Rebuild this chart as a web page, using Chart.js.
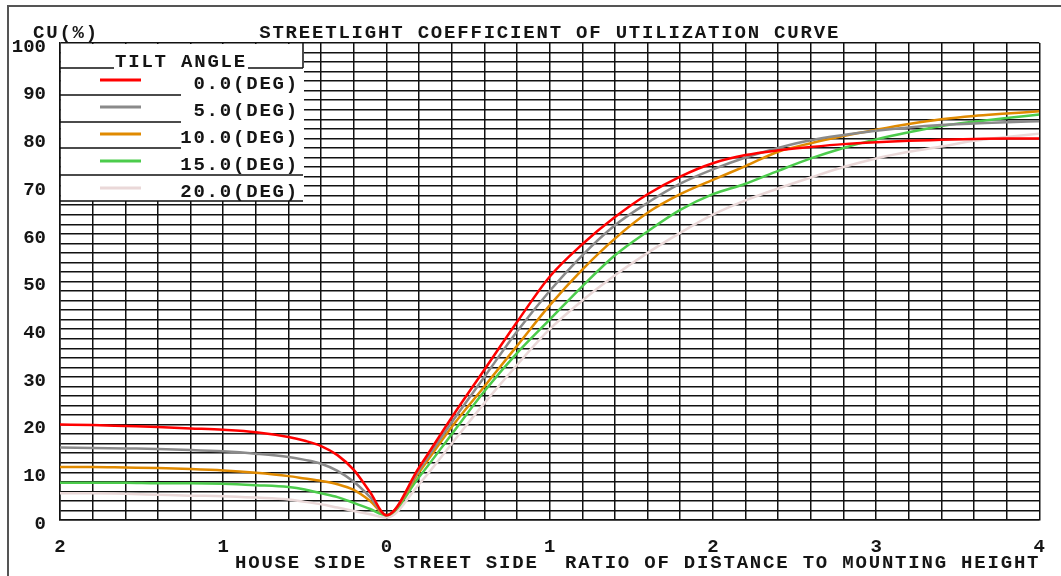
<!DOCTYPE html>
<html>
<head>
<meta charset="utf-8">
<script src="https://cdn.jsdelivr.net/npm/chart.js@4.4.1/dist/chart.umd.min.js"></script>
<style>
  html, body { margin: 0; padding: 0; background: #fff; }
  canvas { display: block; }
</style>
</head>
<body>
<canvas id="cu" width="1061" height="576"></canvas>
<script>
// distance / mounting height, house side negative
const distance = [-2, -1.8, -1.6, -1.4, -1.2, -1, -0.8, -0.6, -0.5, -0.4, -0.3, -0.2, -0.1, 0,
  0.2, 0.4, 0.6, 0.8, 1, 1.2, 1.4, 1.6, 1.8, 2, 2.2, 2.4, 2.6, 2.8, 3, 3.2, 3.4, 3.6, 3.8, 4];

const tiltLabels = ['0.0(DEG)', '5.0(DEG)', '10.0(DEG)', '15.0(DEG)', '20.0(DEG)'];
const tiltColors = ['#ff0000', '#8a8a8a', '#e08a00', '#4ccc4c', '#ead8d8'];

const cu0 = [20, 19.9, 19.7, 19.5, 19.2, 18.9, 18.4, 17.4, 16.6, 15.5, 13.6, 10.5, 5.8, 1,
  11, 21.5, 31.5, 41.5, 51, 57.8, 63.5, 68.3, 72, 74.8, 76.5, 77.5, 78.2, 78.8, 79.2, 79.5, 79.7, 79.9, 80, 80];
const cu5 = [15.2, 15.1, 15, 14.9, 14.7, 14.4, 13.9, 13.2, 12.6, 11.8, 10.3, 8, 4.8, 1,
  10.5, 20.5, 30, 39.5, 48, 55.5, 61.8, 66.5, 70.5, 73.5, 76, 78, 79.6, 80.7, 81.6, 82.3, 82.8, 83.1, 83.4, 83.6];
const cu10 = [11.1, 11.1, 11, 10.9, 10.7, 10.4, 9.9, 9.2, 8.7, 8.2, 7.5, 6.3, 4, 1,
  10, 19.5, 28, 36.5, 45, 52.5, 59, 64.4, 68.3, 71.3, 74.2, 77.2, 79, 80.5, 81.8, 83, 84, 84.7, 85.2, 85.7];
const cu15 = [7.8, 7.8, 7.8, 7.7, 7.7, 7.6, 7.3, 6.9, 6.4, 5.6, 4.8, 3.6, 2.3, 1,
  9, 18, 27, 35, 42, 49, 55.5, 60.5, 65, 68.3, 70.5, 73.2, 75.8, 78, 79.8, 81.3, 82.6, 83.5, 84.3, 85];
const cu20 = [5.6, 5.6, 5.5, 5.3, 5.1, 5, 4.7, 4.3, 3.8, 3.3, 2.6, 1.9, 1.2, 0.5,
  7.5, 16, 24.5, 32.5, 40, 46, 51.3, 56, 60.2, 64, 67, 69.5, 71.8, 74, 75.8, 77.2, 78.3, 79.5, 80.3, 81];

const series = [cu0, cu5, cu10, cu15, cu20];

const FONT = 'bold 19px "Liberation Mono", "DejaVu Sans Mono", monospace';
const INK = '#151515';

function spaced(ctx, text, x, y, align) {
    ctx.save();
    ctx.font = FONT;
    ctx.letterSpacing = '1.8px';
    ctx.fillStyle = INK;
    ctx.textAlign = align || 'left';
    ctx.textBaseline = 'middle';
    ctx.fillText(text, x, y);
    ctx.restore();
}

const decor = {
    id: 'decor',
    beforeDraw(chart) {
        const ctx = chart.ctx;
        ctx.save();
        ctx.fillStyle = '#fff';
        ctx.fillRect(0, 0, chart.width, chart.height);
        ctx.restore();
    },
    afterDraw(chart) {
        const ctx = chart.ctx;
        const a = chart.chartArea;
        ctx.save();
        // outer frame
        ctx.strokeStyle = '#555';
        ctx.lineWidth = 2;
        ctx.strokeRect(8, 6, chart.width, chart.height);

        // titles
        spaced(ctx, 'CU(%)', 33, 33);
        spaced(ctx, 'STREETLIGHT COEFFICIENT OF UTILIZATION CURVE', (a.left + a.right) / 2, 33, 'center');
        spaced(ctx, 'HOUSE SIDE  STREET SIDE  RATIO OF DISTANCE TO MOUNTING HEIGHT', a.right + 1, 563, 'right');

        // legend box
        const L = a.left, T = a.top, R = a.left + 243;
        ctx.fillStyle = '#fff';
        ctx.fillRect(L + 1, T + 1, R - L, 157);
        ctx.strokeStyle = '#111';
        ctx.lineWidth = 1.5;
        ctx.beginPath();
        ctx.moveTo(R, T); ctx.lineTo(R, T + 25);
        ctx.moveTo(L, T + 25); ctx.lineTo(L + 54, T + 25);
        ctx.moveTo(L + 188, T + 25); ctx.lineTo(R, T + 25);
        [52, 79, 105].forEach(d => { ctx.moveTo(L, T + d); ctx.lineTo(L + 121, T + d); });
        [132, 158].forEach(d => { ctx.moveTo(L, T + d); ctx.lineTo(R, T + d); });
        ctx.stroke();
        spaced(ctx, 'TILT ANGLE', L + 121, T + 19, 'center');
        tiltLabels.forEach((lab, i) => {
            const y = T + 37 + i * 27;
            ctx.strokeStyle = tiltColors[i];
            ctx.lineWidth = 3;
            ctx.beginPath();
            ctx.moveTo(L + 40, y);
            ctx.lineTo(L + 81, y);
            ctx.stroke();
            spaced(ctx, lab, R - 4, y + 4, 'right');
        });
        ctx.restore();
    }
};

new Chart(document.getElementById('cu'), {
    type: 'line',
    data: {
        datasets: series.map((vals, i) => ({
            label: tiltLabels[i],
            data: vals.map((v, k) => ({ x: distance[k], y: v })),
            borderColor: tiltColors[i],
            borderWidth: 2.5,
            pointRadius: 0,
            cubicInterpolationMode: 'monotone',
            fill: false
        }))
    },
    options: {
        responsive: false,
        animation: false,
        layout: { padding: { top: 43, right: 18, bottom: 0, left: 0 } },
        plugins: {
            legend: { display: false },
            tooltip: { enabled: false }
        },
        scales: {
            x: {
                type: 'linear',
                min: -2,
                max: 4,
                afterFit: s => { s.height = 56; },
                grid: { color: '#111', lineWidth: 1.5, drawTicks: false },
                border: { color: '#111', width: 1.5 },
                ticks: {
                    stepSize: 0.2,
                    autoSkip: false,
                    maxRotation: 0,
                    padding: 16,
                    color: INK,
                    font: { family: '"Liberation Mono", monospace', size: 19, weight: 'bold' },
                    callback: v => Math.abs(v - Math.round(v)) < 1e-6 ? String(Math.abs(Math.round(v))) : ''
                }
            },
            y: {
                min: 0,
                max: 100,
                afterFit: s => { s.width = 60; },
                grid: { color: '#111', lineWidth: 1.5, drawTicks: false },
                border: { color: '#111', width: 1.5 },
                ticks: {
                    stepSize: 2,
                    autoSkip: false,
                    padding: 14,
                    labelOffset: 4,
                    color: INK,
                    font: { family: '"Liberation Mono", monospace', size: 19, weight: 'bold' },
                    callback: v => v % 10 === 0 ? String(v) : ''
                }
            }
        }
    },
    plugins: [decor]
});
</script>
</body>
</html>
